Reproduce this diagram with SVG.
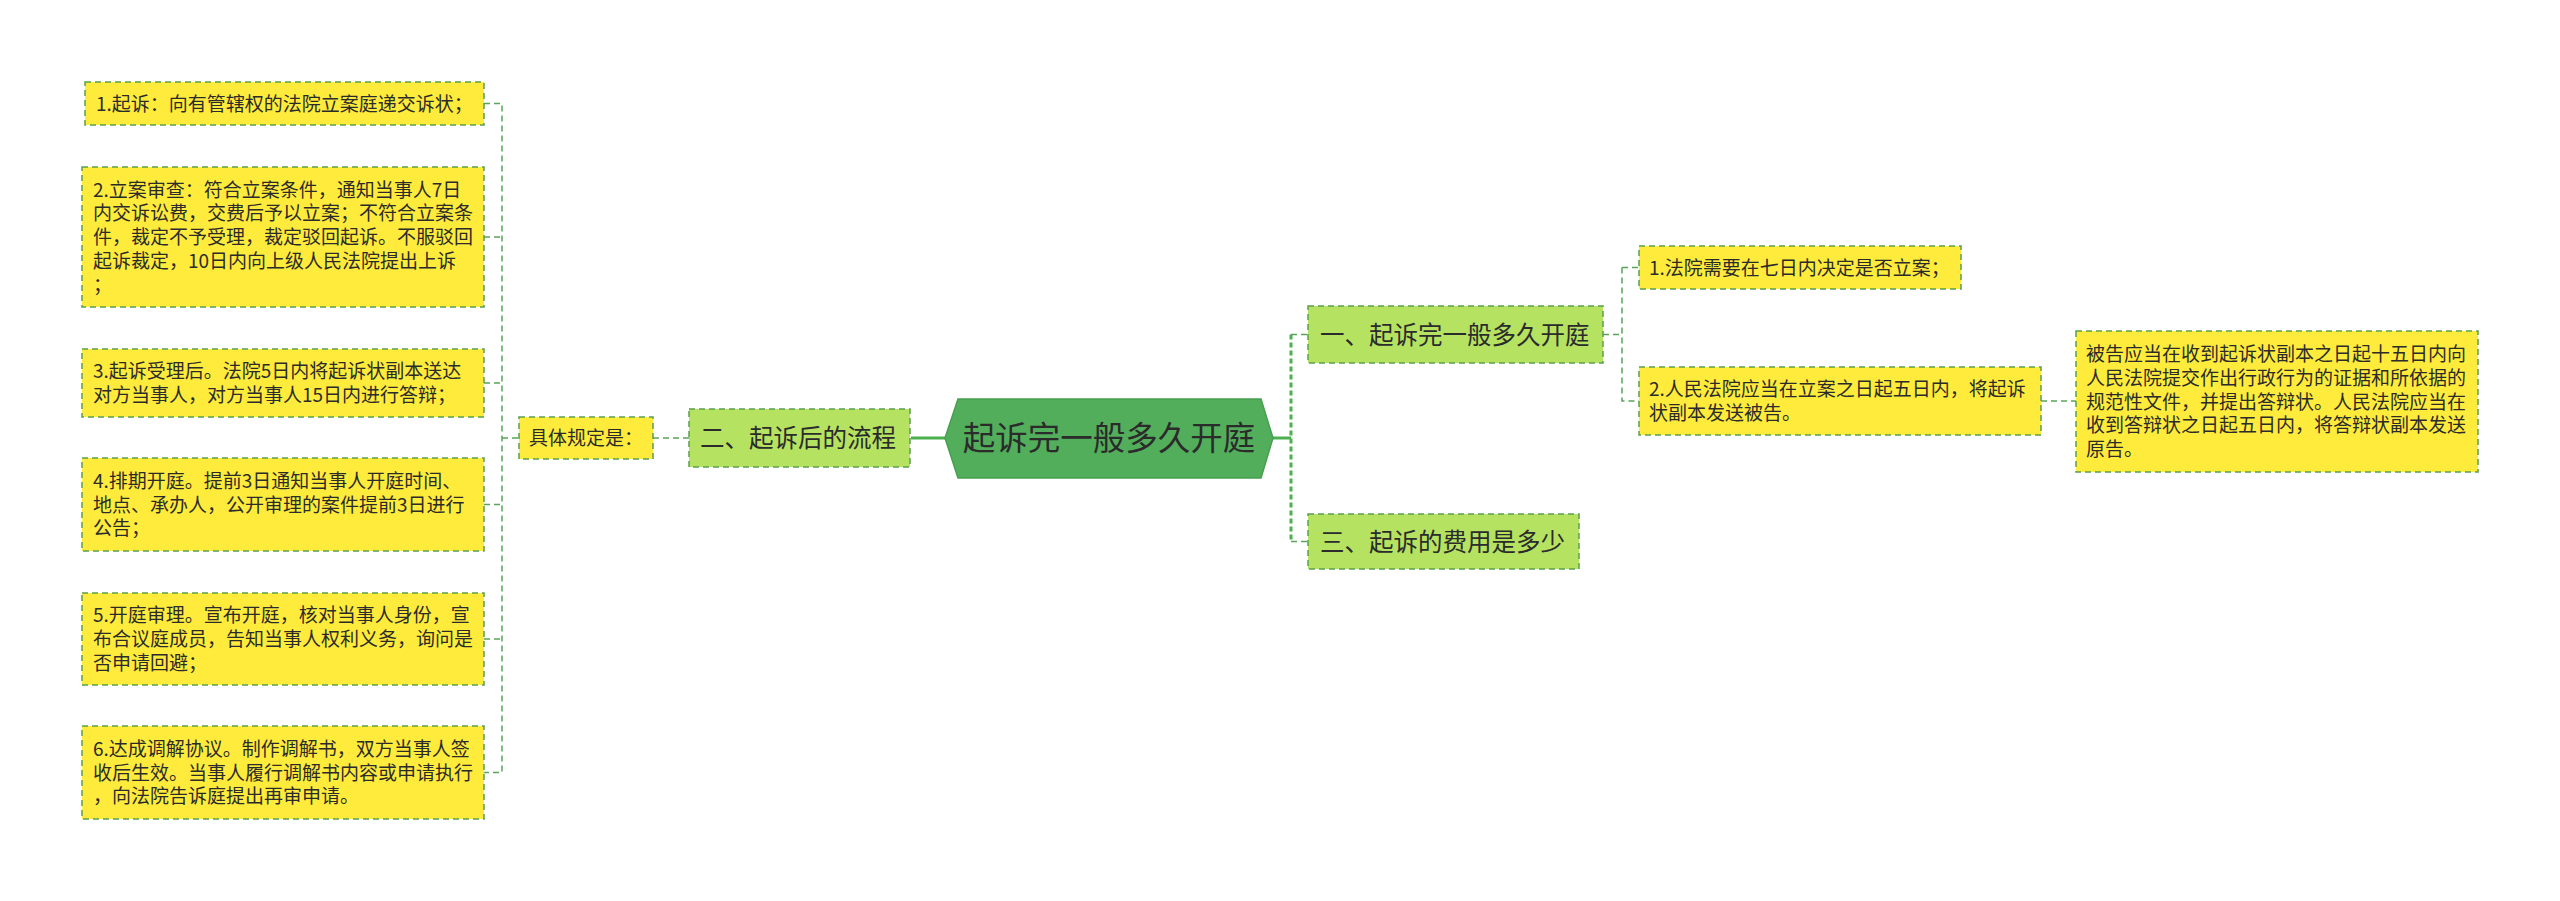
<svg xmlns="http://www.w3.org/2000/svg" width="2560" height="901" viewBox="0 0 2560 901">
<style>
.bg{fill:#ffffff}
.y{fill:#ffeb3b;stroke:#5aa04e;stroke-width:1.5;stroke-dasharray:6 4}
.g{fill:#b5e361;stroke:#5aa04e;stroke-width:1.5;stroke-dasharray:6 4}
.hex{fill:#52ae5b;stroke:#46a04f;stroke-width:1.5}
.t{font-family:"Noto Sans CJK SC","Noto Sans CJK TC",sans-serif;font-size:19px;fill:#2b2b2b}
.m{font-family:"Noto Sans CJK SC","Noto Sans CJK TC",sans-serif;font-size:24.5px;fill:#2b2b2b}
.r{font-family:"Noto Sans CJK SC","Noto Sans CJK TC",sans-serif;font-size:32.5px;fill:#2b2b2b}
.c{fill:none;stroke:#5aa55a;stroke-width:1.5;stroke-dasharray:6 4}
.cs{fill:none;stroke:#4caf50;stroke-width:3}
.cd{fill:none;stroke:#4caf50;stroke-width:3;stroke-dasharray:5 3}
</style>
<rect class="bg" x="0" y="0" width="2560" height="901"/>
<g id="connectors">
<path class="c" d="M484,103.5 H502 V772.5 H484"/>
<path class="c" d="M484,237 H502"/>
<path class="c" d="M484,383 H502"/>
<path class="c" d="M484,504.5 H502"/>
<path class="c" d="M484,639 H502"/>
<path class="c" d="M502,438 H519"/>
<path class="c" d="M653,438 H689"/>
<path class="cs" d="M911,438 H945"/>
<path class="cs" d="M1273,438 H1291"/>
<path class="cd" d="M1291,334.5 V541.5"/>
<path class="c" d="M1291,334.5 H1308"/>
<path class="c" d="M1291,541.5 H1308"/>
<path class="c" d="M1603,334.5 H1622"/>
<path class="c" d="M1622,267.5 V401 H1639"/>
<path class="c" d="M1622,267.5 H1639"/>
<path class="c" d="M2041,401 H2076"/>
</g>
<g id="root">
<polygon class="hex" points="945,438 958,399 1261,399 1273,438 1261,478 958,478"/>
<text class="r" x="1109" y="450.4" text-anchor="middle">起诉完一般多久开庭</text>
</g>
<g id="n2">
<rect class="g" x="689" y="409" width="221" height="58"/>
<text class="m" x="700" y="447.3">二、起诉后的流程</text>
</g>
<g id="n2a">
<rect class="y" x="519" y="417" width="134" height="42"/>
<text class="t" x="529" y="445">具体规定是：</text>
</g>
<g id="s1">
<rect class="y" x="85" y="82" width="399" height="43"/>
<text class="t" x="96" y="110.5">1.起诉：向有管辖权的法院立案庭递交诉状；</text>
</g>
<g id="s2">
<rect class="y" x="82" y="167" width="402" height="140"/>
<text class="t" x="93" y="196.5">2.立案审查：符合立案条件，通知当事人7日</text>
<text class="t" x="93" y="220.25">内交诉讼费，交费后予以立案；不符合立案条</text>
<text class="t" x="93" y="244">件，裁定不予受理，裁定驳回起诉。不服驳回</text>
<text class="t" x="93" y="267.75">起诉裁定，10日内向上级人民法院提出上诉</text>
<text class="t" x="93" y="291.5">；</text>
</g>
<g id="s3">
<rect class="y" x="82" y="349" width="402" height="68"/>
<text class="t" x="93" y="378.1">3.起诉受理后。法院5日内将起诉状副本送达</text>
<text class="t" x="93" y="401.9">对方当事人，对方当事人15日内进行答辩；</text>
</g>
<g id="s4">
<rect class="y" x="82" y="458" width="402" height="93"/>
<text class="t" x="93" y="487.8">4.排期开庭。提前3日通知当事人开庭时间、</text>
<text class="t" x="93" y="511.5">地点、承办人，公开审理的案件提前3日进行</text>
<text class="t" x="93" y="535.3">公告；</text>
</g>
<g id="s5">
<rect class="y" x="82" y="593" width="402" height="92"/>
<text class="t" x="93" y="622.3">5.开庭审理。宣布开庭，核对当事人身份，宣</text>
<text class="t" x="93" y="646">布合议庭成员，告知当事人权利义务，询问是</text>
<text class="t" x="93" y="669.8">否申请回避；</text>
</g>
<g id="s6">
<rect class="y" x="82" y="726" width="402" height="93"/>
<text class="t" x="93" y="755.8">6.达成调解协议。制作调解书，双方当事人签</text>
<text class="t" x="93" y="779.5">收后生效。当事人履行调解书内容或申请执行</text>
<text class="t" x="93" y="803.3">，向法院告诉庭提出再审申请。</text>
</g>
<g id="n1">
<rect class="g" x="1308" y="306" width="295" height="57"/>
<text class="m" x="1320" y="343.8">一、起诉完一般多久开庭</text>
</g>
<g id="n3">
<rect class="g" x="1308" y="514" width="271" height="55"/>
<text class="m" x="1320" y="550.8">三、起诉的费用是多少</text>
</g>
<g id="a1">
<rect class="y" x="1639" y="246" width="322" height="43"/>
<text class="t" x="1649" y="274.5">1.法院需要在七日内决定是否立案；</text>
</g>
<g id="a2">
<rect class="y" x="1639" y="367" width="402" height="68"/>
<text class="t" x="1649" y="396.1">2.人民法院应当在立案之日起五日内，将起诉</text>
<text class="t" x="1649" y="419.9">状副本发送被告。</text>
</g>
<g id="a2a">
<rect class="y" x="2076" y="331" width="402" height="141"/>
<text class="t" x="2086" y="361">被告应当在收到起诉状副本之日起十五日内向</text>
<text class="t" x="2086" y="384.75">人民法院提交作出行政行为的证据和所依据的</text>
<text class="t" x="2086" y="408.5">规范性文件，并提出答辩状。人民法院应当在</text>
<text class="t" x="2086" y="432.25">收到答辩状之日起五日内，将答辩状副本发送</text>
<text class="t" x="2086" y="456">原告。</text>
</g>
</svg>
